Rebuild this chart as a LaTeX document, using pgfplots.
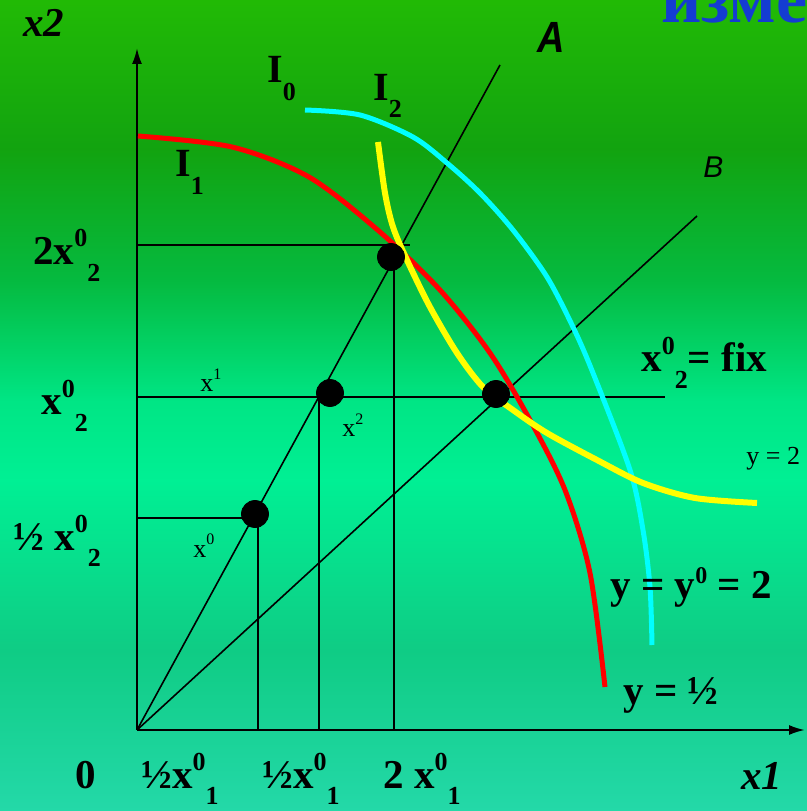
\documentclass[border=0pt]{standalone}
\usepackage{fontspec}
\setmainfont{Liberation Serif}
\newfontfamily\arialf{Liberation Sans}
\usepackage{pgfplots}
\pgfplotsset{compat=1.18}
\usetikzlibrary{arrows.meta}
\definecolor{myblue}{RGB}{20,60,210}
\definecolor{cyn}{RGB}{0,255,255}
\definecolor{yel}{RGB}{255,255,0}
\definecolor{rd}{RGB}{255,0,0}
\pgfdeclareverticalshading{bgshade}{100bp}{rgb(0bp)=(0.14,0.85,0.66); rgb(25bp)=(0.14,0.85,0.66); rgb(34.9bp)=(0.06,0.80,0.52); rgb(45.4bp)=(0.0,0.94,0.58); rgb(50.3bp)=(0.0,0.90,0.52); rgb(57.7bp)=(0.02,0.73,0.25); rgb(65.8bp)=(0.07,0.64,0.06); rgb(75bp)=(0.13,0.73,0.02); rgb(100bp)=(0.13,0.73,0.02)}
\newcommand{\mainf}{\fontsize{20.5}{24}\selectfont\bfseries}
\newcommand{\supf}{\fontsize{13}{13}\selectfont}
\newcommand{\SX}[3]{#1\raisebox{9pt}{\supf #2}\raisebox{-8.5pt}{\supf #3}}
\newcommand{\IL}[1]{I\raisebox{-9pt}{\fontsize{13}{13}\selectfont #1}}
\begin{document}
\begin{tikzpicture}[every node/.append style={inner sep=0pt}]
\begin{axis}[x=0.5pt, y=0.5pt, xmin=-137, xmax=670, ymin=-81, ymax=730,
  axis line style={draw=none}, ticks=none, clip=false,
  axis background/.style={shading=bgshade}]
% axes
\addplot[black, line width=1pt, -{Latex[length=8pt,width=5pt]}] coordinates {(0,0) (668,0)};
\addplot[black, line width=1pt, -{Latex[length=8pt,width=5pt]}] coordinates {(0,0) (0,682)};
% guide lines
\addplot[black, line width=0.8pt] coordinates {(0,485) (273,485)};
\addplot[black, line width=0.8pt] coordinates {(0,333) (528,333)};
\addplot[black, line width=0.8pt] coordinates {(0,212) (118,212)};
\addplot[black, line width=0.8pt] coordinates {(121,0) (121,212)};
\addplot[black, line width=0.8pt] coordinates {(182,0) (182,333)};
\addplot[black, line width=0.8pt] coordinates {(257,0) (257,485)};
% rays
\addplot[black, line width=0.8pt] coordinates {(0,0) (363,665)};
\addplot[black, line width=0.8pt] coordinates {(0,0) (560,514)};
% isoquants
\addplot[rd, line width=2.5pt, smooth] coordinates {(1,594) (95,583) (172,553) (243,498) (303,440) (353,377) (393,310) (428,240) (453,157) (468,43)};
\addplot[cyn, line width=2.5pt, smooth] coordinates {(168,620) (223,615) (276,593) (310,567) (343,537) (376,500) (410,453) (436,403) (456,357) (493,260) (506,200) (513,143) (515,85)};
\addplot[yel, line width=3pt, smooth] coordinates {(241,588) (248,537) (256,503) (270,470) (293,423) (320,377) (346,343) (376,320) (410,297) (460,270) (506,247) (558,232) (620,227)};
% points
\addplot[only marks, mark=*, mark size=6.75pt, black] coordinates {(118,216) (193,337) (254,473) (359,336)};
% labels
\node[anchor=base west, font=\mainf] at (axis cs:-104,465) {\SX{2x}{0}{2}};
\node[anchor=base west, font=\mainf] at (axis cs:-96,315) {\SX{x}{0}{2}};
\node[anchor=base west, font=\mainf] at (axis cs:-124,180) {½ \SX{x}{0}{2}};
\node[anchor=base west, font=\mainf] at (axis cs:-62,-58) {0};
\node[anchor=base west, font=\mainf] at (axis cs:4,-58) {½\SX{x}{0}{1}};
\node[anchor=base west, font=\mainf] at (axis cs:125,-58) {½\SX{x}{0}{1}};
\node[anchor=base west, font=\mainf] at (axis cs:246,-58) {2 \SX{x}{0}{1}};
\node[anchor=base west, font=\mainf\itshape] at (axis cs:604,-60) {x1};
\node[anchor=base west, font=\mainf\itshape] at (axis cs:-114,693) {x2};
\node[anchor=base west, font=\mainf] at (axis cs:504,358) {\SX{x}{0}{2}= fix};
\node[anchor=base west, font=\mainf] at (axis cs:473,132) {y = y\raisebox{7.5pt}{\fontsize{12}{12}\selectfont 0} = 2};
\node[anchor=base west, font=\mainf] at (axis cs:486,25) {y = ½};
\node[anchor=base west, font=\fontsize{13}{13}\selectfont] at (axis cs:609,265) {y = 2};
\node[anchor=base west, font=\fontsize{20}{20}\selectfont\bfseries] at (axis cs:130,647) {\IL{0}};
\node[anchor=base west, font=\fontsize{20}{20}\selectfont\bfseries] at (axis cs:236,630) {\IL{2}};
\node[anchor=base west, font=\fontsize{20}{20}\selectfont\bfseries] at (axis cs:38,553) {\IL{1}};
\node[anchor=base west, font=\fontsize{13}{13}\selectfont] at (axis cs:63,338) {x\raisebox{6pt}{\fontsize{8}{8}\selectfont 1}};
\node[anchor=base west, font=\fontsize{13}{13}\selectfont] at (axis cs:205,293) {x\raisebox{6pt}{\fontsize{8}{8}\selectfont 2}};
\node[anchor=base west, font=\fontsize{13}{13}\selectfont] at (axis cs:56,173) {x\raisebox{6pt}{\fontsize{8}{8}\selectfont 0}};
\node[anchor=base west, font=\arialf\bfseries\itshape\fontsize{19}{19}\selectfont] at (axis cs:400,677) {\scalebox{1}[1.15]{A}};
\node[anchor=base west, font=\arialf\itshape\fontsize{15}{15}\selectfont] at (axis cs:566,552) {B};
\node[anchor=base west, font=\fontsize{35}{35}\selectfont\bfseries, text=myblue] at (axis cs:524,707) {изме};
\end{axis}
\pgfresetboundingbox
\path[use as bounding box] (current axis.south west) rectangle (current axis.north east);
\end{tikzpicture}
\end{document}
